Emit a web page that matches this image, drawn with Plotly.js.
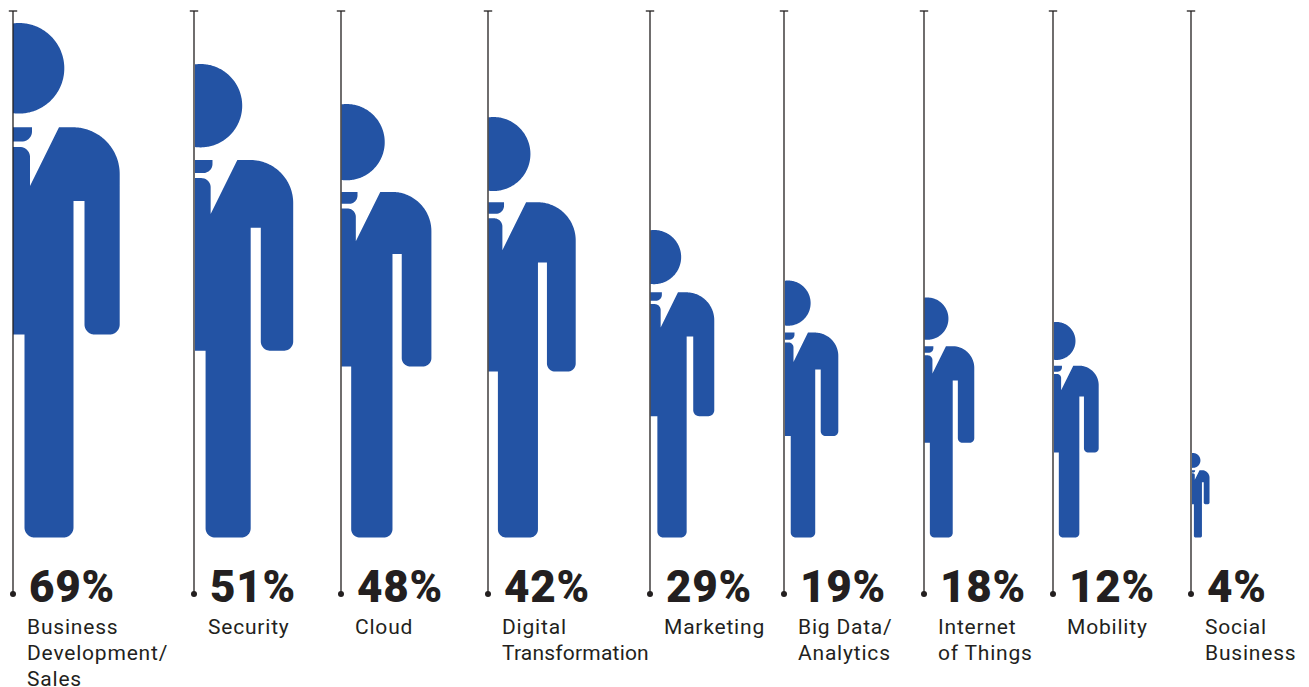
<!DOCTYPE html>
<html>
<head>
<meta charset="utf-8">
<script src="https://cdn.plot.ly/plotly-3.0.1.min.js"></script>
<style>
html,body{margin:0;padding:0;background:#fff;overflow:hidden}
.annotation-text{letter-spacing:.8px}
</style>
</head>
<body>
<div id="chart" style="width:1309px;height:687px"></div>
<script>
// ---- data ----
const categories = [
  ["Business", "Development/", "Sales"],
  ["Security"],
  ["Cloud"],
  ["Digital", "Transformation"],
  ["Marketing"],
  ["Big Data/", "Analytics"],
  ["Internet", "of Things"],
  ["Mobility"],
  ["Social", "Business"]
];
const percentages = [69, 51, 48, 42, 29, 19, 18, 12, 4];
// drawn height of each person (the pictogram is not strictly proportional)
const figureHeights = [514.5, 473.5, 433.5, 420.5, 307.5, 257, 240, 215.5, 84.5];

// ---- layout of the columns ----
const columnX = [13, 194, 341, 488, 650, 784, 924, 1053, 1191];
const figureX = [13, 195, 341.5, 488.5, 650.5, 785, 924.5, 1054, 1192];
const baseY = 537.5, lineTop = 11, lineBottom = 594;
const textOffset = 14.5;
const BLUE = "#2353a4", INK = "#231f20";
const TIGHT_LABELS = ["Transformation"];

// ---- unit pictogram: half a person, 514.5 units tall ----
const UNIT = 514.5;
function arc(cx, cy, r, a0, a1, n) {
  const pts = [];
  for (let i = 0; i <= n; i++) {
    const a = (a0 + (a1 - a0) * i / n) * Math.PI / 180;
    pts.push([cx + r * Math.cos(a), cy + r * Math.sin(a)]);
  }
  return pts;
}
const headPart = arc(6, 45.3, 45.3, -97.6, 97.6, 140);
const collarPart = [[0, 104.3], [19, 104.3], ...arc(9, 108.5, 10, 0, 90, 24), [0, 118.5]];
const bodyPart = [
  [0, 124], ...arc(7, 134, 10, -90, 0, 24), [17, 163], [46, 104.3],
  ...arc(60, 151, 46.7, -90, 0, 70),
  ...arc(96.7, 301.5, 10, 0, 90, 24),
  ...arc(81.5, 301.5, 10, 90, 180, 24),
  [71.5, 178], [60.5, 178],
  ...arc(50.5, 504.5, 10, 0, 90, 24),
  ...arc(21.5, 504.5, 10, 90, 180, 24),
  [11.5, 311.5], [0, 311.5]
];
const parts = [headPart, collarPart, bodyPart];

function personTrace(i) {
  const h = figureHeights[i], s = h / UNIT, x = [], y = [];
  parts.forEach(p => {
    p.forEach(q => { x.push(figureX[i] + q[0] * s); y.push(baseY - h + q[1] * s); });
    x.push(figureX[i] + p[0][0] * s); y.push(baseY - h + p[0][1] * s);
    x.push(null); y.push(null);
  });
  return { type: "scatter", mode: "lines", x, y, fill: "toself", fillcolor: BLUE,
           line: { width: 0, color: BLUE, simplify: false }, hoverinfo: "skip", showlegend: false, connectgaps: false };
}
const traces = percentages.map((_, i) => personTrace(i));

columnX.forEach(cx => {
  traces.push({ type: "scatter", mode: "lines", x: [cx, cx], y: [lineTop, lineBottom],
    line: { color: INK, width: 1.3 }, hoverinfo: "skip", showlegend: false });
});
traces.push({ type: "scatter", mode: "markers", x: columnX, y: columnX.map(() => lineBottom),
  marker: { symbol: "circle", size: 6, color: INK }, hoverinfo: "skip", showlegend: false });
traces.push({ type: "scatter", mode: "markers", x: columnX, y: columnX.map(() => lineTop),
  marker: { symbol: "line-ew", size: 6, line: { color: INK, width: 1.3 } }, hoverinfo: "skip", showlegend: false });

const annotations = [];
percentages.forEach((p, i) => {
  annotations.push({ text: p + "%", x: columnX[i] + textOffset, y: 587, xref: "x", yref: "y",
    xanchor: "left", yanchor: "middle", showarrow: false,
    font: { family: "Roboto", size: 44, weight: 900, color: INK }, borderpad: 0 });
  categories[i].forEach((line, k) => {
    const text = TIGHT_LABELS.includes(line) ? '<span style="letter-spacing:.2px">' + line + '</span>' : line;
    annotations.push({ text, x: columnX[i] + textOffset - 2, y: 627 + 26 * k, xref: "x", yref: "y",
      xanchor: "left", yanchor: "middle", showarrow: false,
      font: { family: "Roboto", size: 21, color: INK }, borderpad: 0 });
  });
});

const layout = {
  width: 1309, height: 687, margin: { l: 0, r: 0, t: 0, b: 0 },
  paper_bgcolor: "#fff", plot_bgcolor: "#fff", showlegend: false,
  xaxis: { range: [0, 1309], visible: false, fixedrange: true },
  yaxis: { range: [687, 0], visible: false, fixedrange: true },
  annotations
};
Plotly.newPlot("chart", traces, layout, { displayModeBar: false, staticPlot: true });
</script>
</body>
</html>
